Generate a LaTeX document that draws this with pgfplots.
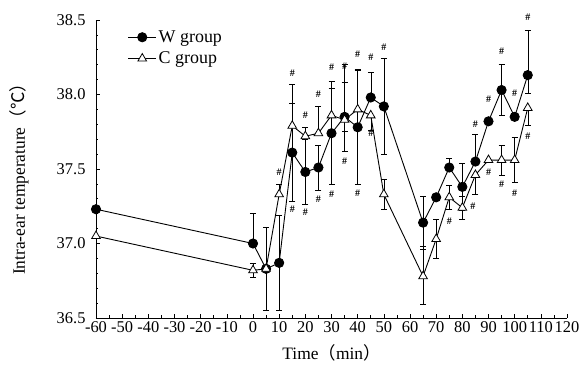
\documentclass[border=0pt]{standalone}
\usepackage{fontspec}
\setmainfont{Liberation Serif}
\newfontfamily\cjk{Noto Sans CJK SC}
\usepackage{pgfplots}
\pgfplotsset{compat=1.18}
\begin{document}
\begin{tikzpicture}
\begin{axis}[
  name=ax,
  scale only axis,
  width=471bp, height=298bp,
  xmin=-60, xmax=120, ymin=36.5, ymax=38.5,
  axis lines=left,
  axis line style={-, line width=0.8bp},
  xtick={-60,-50,...,120},
  ytick={36.5,37.0,37.5,38.0,38.5},
  minor x tick num=1,
  minor y tick num=4,
  tick align=inside,
  major tick length=4bp, minor tick length=2.5bp,
  tick style={line width=0.6bp, black},
  /pgf/number format/assume math mode=true,
  yticklabel style={xshift=-7bp, /pgf/number format/.cd, fixed, fixed zerofill, precision=1},
  ticklabel style={font=\fontsize{16.5}{16.5}\selectfont},
  xlabel={Time{\cjk （}min{\cjk ）}},
  ylabel={Intra-ear temperature{\cjk （℃）}},
  label style={font=\fontsize{17.5}{17.5}\selectfont},
  xlabel style={at={(axis description cs:0.5,-0.078)}, anchor=north},
  ylabel style={at={(axis description cs:-0.163,0.48)}, anchor=center},
  clip=false,
  legend style={at={(0.065,0.975)}, anchor=north west, draw=none, fill=none,
    font=\fontsize{18}{18}\selectfont, row sep=4bp, inner sep=1bp},
  legend cell align=left,
  legend image code/.code={\draw[#1, mark repeat=2, mark phase=2] plot coordinates {(0bp,0bp) (14bp,0bp) (28bp,0bp)};},
]
% error bars W
\addplot[draw=none, mark=none, forget plot, line width=0.6bp,
  error bars/.cd, y dir=both, y explicit,
  error mark options={rotate=90, mark size=3bp, line width=0.6bp}]
coordinates {
(0,37.00) += (0,0.20) -= (0,0)
(5,36.83) += (0,0.28) -= (0,0.28)
(10,36.87) += (0,0.32) -= (0,0.32)
(15,37.61) += (0,0.33) -= (0,0.33)
(20,37.48) += (0,0.22) -= (0,0.22)
(25,37.51) += (0,0.15) -= (0,0.15)
(30,37.74) += (0,0.30) -= (0,0.34)
(35,37.85) += (0,0.35) -= (0,0.10)
(40,37.78) += (0,0.38) -= (0,0.38)
(45,37.98) += (0,0.17) -= (0,0)
(50,37.92) += (0,0.32) -= (0,0.32)
(65,37.14) += (0,0.18) -= (0,0.18)
(75,37.51) += (0,0.06) -= (0,0)
(80,37.38) += (0,0.16) -= (0,0.16)
(85,37.55) += (0,0.18) -= (0,0)
(95,38.03) += (0,0.17) -= (0,0.17)
(105,38.13) += (0,0.30) -= (0,0.12)
};
% error bars C
\addplot[draw=none, mark=none, forget plot, line width=0.6bp,
  error bars/.cd, y dir=both, y explicit,
  error mark options={rotate=90, mark size=3bp, line width=0.6bp}]
coordinates {
(0,36.82) += (0,0.05) -= (0,0.05)
(10,37.33) += (0,0.07) -= (0,0)
(15,37.79) += (0,0.28) -= (0,0)
(20,37.72) += (0,0.06) -= (0,0)
(25,37.74) += (0,0.18) -= (0,0)
(30,37.86) += (0,0.23) -= (0,0)
(35,37.83) += (0,0.25) -= (0,0.21)
(40,37.90) += (0,0.27) -= (0,0)
(45,37.86) += (0,0) -= (0,0.10)
(50,37.33) += (0,0.10) -= (0,0.10)
(65,36.78) += (0,0.20) -= (0,0.19)
(70,37.03) += (0,0.13) -= (0,0.13)
(75,37.31) += (0,0.08) -= (0,0.08)
(80,37.24) += (0,0.08) -= (0,0.08)
(85,37.46) += (0,0) -= (0,0.13)
(95,37.56) += (0,0.10) -= (0,0.10)
(100,37.56) += (0,0.15) -= (0,0.15)
(105,37.91) += (0,0) -= (0,0.12)
};
% W group
\addplot[black, line width=0.9bp, mark=*, mark size=4.6bp, mark options={fill=black}]
coordinates {
(-60,37.23) (0,37.00) (5,36.83) (10,36.87) (15,37.61) (20,37.48) (25,37.51)
(30,37.74) (35,37.85) (40,37.78) (45,37.98) (50,37.92) (65,37.14) (70,37.31)
(75,37.51) (80,37.38) (85,37.55) (90,37.82) (95,38.03) (100,37.85) (105,38.13)
};
\addlegendentry{W group}
% C group
\addplot[black, line width=0.9bp, mark=triangle*, mark size=5bp, mark options={fill=white, line width=0.8bp}]
coordinates {
(-60,37.05) (0,36.82) (5,36.83) (10,37.33) (15,37.79) (20,37.72) (25,37.74)
(30,37.86) (35,37.83) (40,37.90) (45,37.86) (50,37.33) (65,36.78) (70,37.03)
(75,37.31) (80,37.24) (85,37.46) (90,37.56) (95,37.56) (100,37.56) (105,37.91)
};
\addlegendentry{C group}
% significance marks
\addplot[draw=none, mark=none, forget plot, nodes near coords={\#},
  every node near coord/.append style={anchor=center, inner sep=0pt, font=\fontsize{10}{10}\selectfont\bfseries}]
coordinates {
(10,37.48) (15,38.14) (20,37.86) (25,38.00) (30,38.18) (35,38.19) (40,38.27)
(45,38.25) (50,38.32) (45,37.74) (35,37.55) (90,37.97) (95,38.29) (100,38.01)
(105,38.52) (105,37.72) (85,37.80) (90,37.48) (95,37.40) (15,37.23) (20,37.21)
(25,37.30) (30,37.33) (40,37.34) (75,37.15) (84,37.25) (100,37.34)
};
\end{axis}
\pgfresetboundingbox
\path (ax.south west) ++(-96bp,-48bp) rectangle ++(583bp,366bp);
\end{tikzpicture}
\end{document}
